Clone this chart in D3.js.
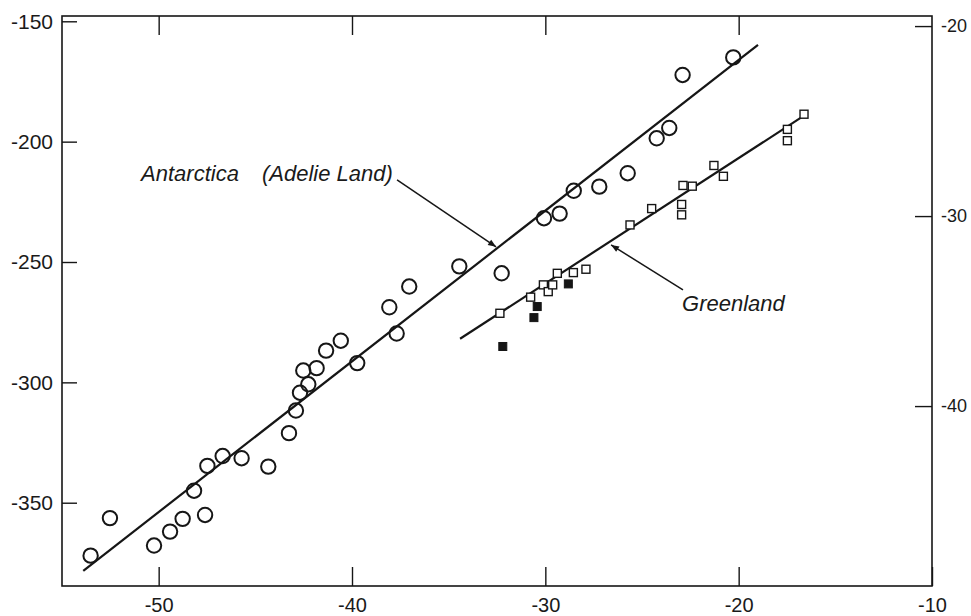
<!DOCTYPE html>
<html>
<head>
<meta charset="utf-8">
<script src="https://cdn.jsdelivr.net/npm/d3@7"></script>
<style>
  html, body { margin: 0; padding: 0; background: #fff; }
  svg { display: block; }
  text { font-family: "Liberation Sans", Arial, Helvetica, sans-serif; fill: #1a1a1a; }
</style>
</head>
<body>
<svg id="chart" width="971" height="616"></svg>
<script>
// ---- Data ----
// Antarctica (Adelie Land): x = temperature, y = deltaD (left axis)
const antX = [-53.52, -52.52, -50.24, -49.41, -48.76, -47.60, -48.17, -47.48, -46.69, -45.71,
              -44.33, -43.26, -42.90, -42.69, -42.26, -42.52, -41.83, -41.34, -40.58, -39.73,
              -38.07, -37.69, -37.04, -34.45, -32.26, -30.07, -29.26, -28.53, -27.21, -25.74,
              -24.24, -23.59, -22.90, -20.28];
const antY = [-372.0, -356.4, -367.8, -362.0, -356.7, -355.1, -345.0, -334.7, -330.6, -331.5,
              -335.0, -321.1, -311.7, -304.3, -300.8, -295.1, -294.1, -286.8, -282.7, -292.0,
              -268.8, -279.7, -260.2, -251.8, -254.7, -231.8, -229.9, -220.4, -218.7, -213.1,
              -198.6, -194.3, -172.3, -165.0];
// Greenland, open squares
const grnOpenX = [-32.35, -30.76, -30.10, -29.85, -29.62, -29.38, -28.55, -27.90, -25.62, -24.50,
                  -22.95, -22.95, -22.88, -22.40, -21.28, -20.79, -17.48, -17.48, -16.62];
const grnOpenY = [-271.3, -264.6, -259.5, -262.3, -259.5, -254.7, -254.4, -253.0, -234.6, -227.8,
                  -226.1, -230.4, -218.2, -218.5, -209.9, -214.4, -194.9, -199.6, -188.6];
// Greenland, filled squares
const grnFillX = [-32.20, -30.59, -30.42, -28.81];
const grnFillY = [-285.1, -273.1, -268.5, -259.1];
// Regression lines (end points)
const antFitX = [-53.9, -19.0];
const antFitY = [-378.3, -159.8];
const grnFitX = [-34.41, -16.56];
const grnFitY = [-281.9, -188.9];
// Ticks
const xTicks = [-50, -40, -30, -20, -10];
const xTopTicks = [-50, -40, -30, -20];
const leftTicks = [-150, -200, -250, -300, -350];
const rightTicks = [-20, -30, -40];
// Annotations (data coordinates)
const labelNames = ["Antarctica", "(Adelie Land)", "Greenland"];
const labelX = [-50.91, -44.66, -22.93];
const labelY = [-216.3, -216.3, -270.3];
const leaderFromX = [-37.67, -22.88];
const leaderFromY = [-215.9, -261.6];
const leaderToX = [-32.55, -26.60];
const leaderToY = [-243.7, -242.9];

// ---- Layout ----
const L = 62, R = 932, T = 16, B = 586;
const svg = d3.select("#chart");
const x = d3.scaleLinear().domain([-55, -10]).range([L, R]);
const y = d3.scaleLinear().domain([-384.6, -147.8]).range([B, T]);
const y2 = d3.scaleLinear().domain([-49.47, -19.47]).range([B, T]);

const ink = "#161616";
const fmt = d => String(d);

svg.append("defs").append("marker")
  .attr("id", "arrow").attr("viewBox", "0 0 10 10")
  .attr("refX", 10).attr("refY", 5)
  .attr("markerWidth", 11).attr("markerHeight", 8)
  .attr("markerUnits", "userSpaceOnUse")
  .attr("orient", "auto")
  .append("path").attr("d", "M0,1 L10,5 L0,9 Z").attr("fill", ink);

// Axes
function styleAxis(size) {
  return g => {
    g.select(".domain").remove();
    g.selectAll(".tick line").attr("stroke", ink).attr("stroke-width", 1.4);
    g.selectAll(".tick text").attr("font-size", size).attr("fill", ink)
      .attr("font-family", "'Liberation Sans', Arial, sans-serif");
  };
}
svg.append("g").attr("transform", `translate(0,${B})`)
  .call(d3.axisBottom(x).tickValues(xTicks).tickFormat(fmt).tickSize(-19).tickPadding(12))
  .call(styleAxis(20));
svg.append("g").attr("transform", `translate(0,${T})`)
  .call(d3.axisTop(x).tickValues(xTopTicks).tickFormat("").tickSize(-19))
  .call(styleAxis(20));
svg.append("g").attr("transform", `translate(${L},0)`)
  .call(d3.axisLeft(y).tickValues(leftTicks).tickFormat(fmt).tickSize(-15).tickPadding(9))
  .call(styleAxis(21));
svg.append("g").attr("transform", `translate(${R},0)`)
  .call(d3.axisRight(y2).tickValues(rightTicks).tickFormat(fmt).tickSize(-17).tickPadding(9))
  .call(styleAxis(18));

// Frame
svg.append("rect").attr("x", L).attr("y", T).attr("width", R - L).attr("height", B - T)
  .attr("fill", "none").attr("stroke", ink).attr("stroke-width", 1.6);

// Regression lines
const line = d3.line().x(d => x(d[0])).y(d => y(d[1]));
svg.append("path").datum(antFitX.map((v, i) => [v, antFitY[i]]))
  .attr("d", line).attr("fill", "none").attr("stroke", ink).attr("stroke-width", 2.2);
svg.append("path").datum(grnFitX.map((v, i) => [v, grnFitY[i]]))
  .attr("d", line).attr("fill", "none").attr("stroke", ink).attr("stroke-width", 2.2);

// Antarctica circles
svg.append("g").selectAll("circle").data(antX.map((v, i) => [v, antY[i]])).join("circle")
  .attr("cx", d => x(d[0])).attr("cy", d => y(d[1])).attr("r", 7.2)
  .attr("fill", "none").attr("stroke", ink).attr("stroke-width", 2);

// Greenland open squares
const sq = 8;
svg.append("g").selectAll("rect").data(grnOpenX.map((v, i) => [v, grnOpenY[i]])).join("rect")
  .attr("x", d => x(d[0]) - sq / 2).attr("y", d => y(d[1]) - sq / 2)
  .attr("width", sq).attr("height", sq)
  .attr("fill", "#fff").attr("stroke", ink).attr("stroke-width", 1.4);
// Greenland filled squares
svg.append("g").selectAll("rect").data(grnFillX.map((v, i) => [v, grnFillY[i]])).join("rect")
  .attr("x", d => x(d[0]) - sq / 2).attr("y", d => y(d[1]) - sq / 2)
  .attr("width", sq).attr("height", sq)
  .attr("fill", ink).attr("stroke", ink).attr("stroke-width", 1);

// Leaders
svg.append("g").selectAll("line").data(leaderFromX.map((v, i) => i)).join("line")
  .attr("x1", i => x(leaderFromX[i])).attr("y1", i => y(leaderFromY[i]))
  .attr("x2", i => x(leaderToX[i])).attr("y2", i => y(leaderToY[i]))
  .attr("stroke", ink).attr("stroke-width", 1.5).attr("marker-end", "url(#arrow)");

// Labels
svg.append("g").selectAll("text").data(labelNames.map((v, i) => i)).join("text")
  .attr("x", i => x(labelX[i])).attr("y", i => y(labelY[i]))
  .attr("font-size", 22).attr("font-style", "italic").attr("fill", ink)
  .text(i => labelNames[i]);
</script>
</body>
</html>
